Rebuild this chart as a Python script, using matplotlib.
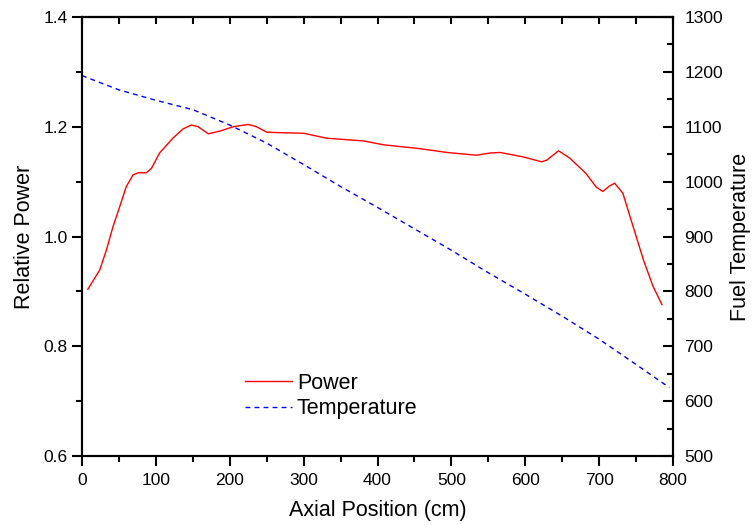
import matplotlib
matplotlib.use("Agg")
import matplotlib.pyplot as plt
from matplotlib.ticker import MultipleLocator

plt.rcParams['font.family'] = ['Liberation Sans', 'DejaVu Sans']

# relative power along the axis
powerX = [8, 24, 33, 42, 51, 60, 69, 76, 87, 94, 105, 123, 137, 148, 157, 171, 187,
          205, 225, 236, 250, 268, 300, 331, 381, 408, 457, 494, 534, 552, 566, 597,
          622, 629, 645, 660, 682, 696, 705, 714, 721, 732, 746, 760, 773, 785]
powerY = [0.904, 0.939, 0.975, 1.018, 1.054, 1.091, 1.112, 1.116, 1.116, 1.124, 1.152,
          1.179, 1.196, 1.203, 1.200, 1.187, 1.192, 1.200, 1.204, 1.200, 1.190, 1.189,
          1.188, 1.179, 1.174, 1.167, 1.160, 1.153, 1.148, 1.152, 1.153, 1.145, 1.136,
          1.139, 1.156, 1.143, 1.115, 1.090, 1.082, 1.092, 1.097, 1.079, 1.018, 0.957,
          0.909, 0.876]

# fuel temperature
tempX = [0, 50, 100, 150, 200, 250, 300, 350, 400, 450, 500, 550, 600, 650, 700, 750, 795]
tempY = [1193, 1167, 1148, 1131, 1103, 1070, 1031, 991, 953, 914, 875, 834, 795, 755,
         713, 667, 625]

fig = plt.figure(figsize=(7.52, 5.25), dpi=100)
ax1 = fig.add_axes([0.109, 0.131, 0.786, 0.837])
ax2 = ax1.twinx()

l1, = ax1.plot(powerX, powerY, color='red', lw=1.0, label='Power')
l2, = ax2.plot(tempX, tempY, color='blue', lw=1.0, ls=(0, (3.5, 3)), label='Temperature')

ax1.set_xlim(0, 800)
ax1.set_ylim(0.6, 1.4)
ax2.set_ylim(500, 1300)

ax1.xaxis.set_major_locator(MultipleLocator(100))
ax1.xaxis.set_minor_locator(MultipleLocator(50))
ax1.yaxis.set_major_locator(MultipleLocator(0.2))
ax1.yaxis.set_minor_locator(MultipleLocator(0.1))
ax2.yaxis.set_major_locator(MultipleLocator(100))
ax2.yaxis.set_minor_locator(MultipleLocator(50))

ax1.tick_params(which='major', direction='out', length=7, width=1.5, labelsize=12.5)
ax1.tick_params(axis='x', which='major', pad=5)
ax1.tick_params(which='minor', direction='out', length=4, width=1.5)
ax2.tick_params(which='major', direction='in', length=7, width=1.5, labelsize=12.5, pad=8)
ax2.tick_params(which='minor', direction='in', length=4, width=1.5)

# top axis: inward ticks, no labels
top = ax1.secondary_xaxis('top')
top.xaxis.set_major_locator(MultipleLocator(50))
top.tick_params(direction='in', length=5, width=1.5, labeltop=False)

for a in (ax1, ax2):
    for s in a.spines.values():
        s.set_linewidth(1.5)
top.spines['top'].set_linewidth(1.5)

ax1.set_xlabel('Axial Position (cm)', fontsize=15.5, labelpad=9)
ax1.set_ylabel('Relative Power', fontsize=15.5, labelpad=6)
ax2.set_ylabel('Fuel Temperature', fontsize=15.5, labelpad=5)

ax1.legend(handles=[l1, l2], loc='upper left', bbox_to_anchor=(0.276, 0.19),
           frameon=False, fontsize=15.5, handlelength=2.2, handletextpad=0.2,
           borderpad=0, borderaxespad=0, labelspacing=0.2)

fig.savefig('out.png', dpi=100)
